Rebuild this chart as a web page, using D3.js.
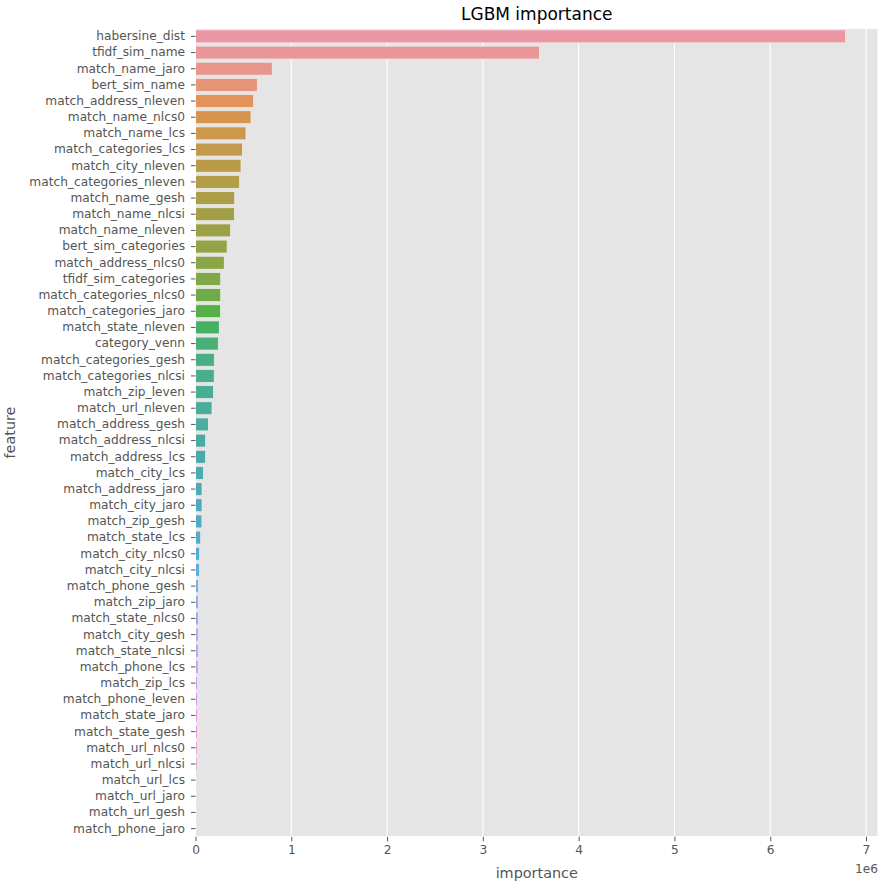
<!DOCTYPE html>
<html>
<head>
<meta charset="utf-8">
<script src="https://cdn.jsdelivr.net/npm/d3@7"></script>
<style>
  body { margin: 0; background: #fff; }
  text { font-family: "DejaVu Sans", sans-serif; }
</style>
</head>
<body>
<div id="chart"></div>
<script>
// feature names, top to bottom
var features = [
  "habersine_dist", "tfidf_sim_name", "match_name_jaro", "bert_sim_name",
  "match_address_nleven", "match_name_nlcs0", "match_name_lcs", "match_categories_lcs",
  "match_city_nleven", "match_categories_nleven", "match_name_gesh", "match_name_nlcsi",
  "match_name_nleven", "bert_sim_categories", "match_address_nlcs0", "tfidf_sim_categories",
  "match_categories_nlcs0", "match_categories_jaro", "match_state_nleven", "category_venn",
  "match_categories_gesh", "match_categories_nlcsi", "match_zip_leven", "match_url_nleven",
  "match_address_gesh", "match_address_nlcsi", "match_address_lcs", "match_city_lcs",
  "match_address_jaro", "match_city_jaro", "match_zip_gesh", "match_state_lcs",
  "match_city_nlcs0", "match_city_nlcsi", "match_phone_gesh", "match_zip_jaro",
  "match_state_nlcs0", "match_city_gesh", "match_state_nlcsi", "match_phone_lcs",
  "match_zip_lcs", "match_phone_leven", "match_state_jaro", "match_state_gesh",
  "match_url_nlcs0", "match_url_nlcsi", "match_url_lcs", "match_url_jaro",
  "match_url_gesh", "match_phone_jaro"
];

// importance
var importance = [
  6786000, 3590000, 801000, 645000,
  607000, 579000, 527000, 489000,
  475000, 461000, 409000, 407000,
  367000, 330000, 300000, 263000,
  263000, 261000, 248000, 238000,
  196000, 195000, 186000, 172000,
  134000, 106000, 105000, 82000,
  68000, 68000, 67000, 54000,
  43000, 42000, 30000, 30000,
  30000, 29000, 28000, 28000,
  19000, 19000, 18000, 18000,
  17000, 16000, 0, 0,
  0, 0
];

var xTicks = [0, 1, 2, 3, 4, 5, 6, 7];

var data = features.map(function(f, i) { return {feature: f, value: importance[i]}; });

// --- husl palette (same maths as seaborn's) ---
var M = [[3.2406, -1.5372, -0.4986], [-0.9689, 1.8758, 0.0415], [0.0557, -0.2040, 1.0570]];
var refU = 0.19784, refV = 0.46834, labE = 0.008856, labK = 903.3;

function maxChroma(L, H) {
  var hr = H / 360 * 2 * Math.PI, sinH = Math.sin(hr), cosH = Math.cos(hr);
  var sub1 = Math.pow(L + 16, 3) / 1560896.0;
  var sub2 = sub1 > labE ? sub1 : L / labK;
  var result = Infinity;
  M.forEach(function(r) {
    var top = (0.99915 * r[0] + 1.05122 * r[1] + 1.14460 * r[2]) * sub2;
    var rb = 0.86330 * r[2] - 0.17266 * r[1];
    var lb = 0.12949 * r[2] - 0.38848 * r[0];
    var bottom = (rb * sinH + lb * cosH) * sub2;
    [0, 1].forEach(function(t) {
      var C = L * (top - 1.05122 * t) / (bottom + 0.17266 * sinH * t);
      if (C > 0 && C < result) result = C;
    });
  });
  return result;
}

function huslToRgb(H, S, L) {
  var C = maxChroma(L, H) / 100 * S;
  var hr = H / 360 * 2 * Math.PI;
  var U = Math.cos(hr) * C, V = Math.sin(hr) * C;
  var t = (L + 16) / 116;
  var Y = Math.pow(t, 3) > labE ? Math.pow(t, 3) : (116 * t - 16) / labK;
  var vu = U / (13 * L) + refU, vv = V / (13 * L) + refV;
  var X = 0 - (9 * Y * vu) / ((vu - 4) * vv - vu * vv);
  var Z = (9 * Y - 15 * vv * Y - vv * X) / (3 * vv);
  return M.map(function(r) {
    var c = r[0] * X + r[1] * Y + r[2] * Z;
    c = c <= 0.0031308 ? 12.92 * c : 1.055 * Math.pow(c, 1 / 2.4) - 0.055;
    return Math.max(0, Math.min(1, c));
  });
}

function desaturate(rgb, prop) {
  var hsl = d3.hsl(d3.rgb(rgb[0] * 255, rgb[1] * 255, rgb[2] * 255));
  hsl.s *= prop;
  return hsl.formatHex();
}

var n = features.length;
var palette = d3.range(n).map(function(i) {
  var h = ((i / n) + 0.01) % 1 * 359;
  return desaturate(huslToRgb(h, 0.9 * 99, 0.7 * 99), 0.75);
});

// --- layout ---
var margin = {top: 28.3, right: 17, bottom: 52.3, left: 195.5},
    width = 895 - margin.left - margin.right,
    height = 889 - margin.top - margin.bottom;

var svg = d3.select("#chart")
  .append("svg")
    .attr("width", 895)
    .attr("height", 889)
  .append("g")
    .attr("transform", "translate(" + margin.left + "," + margin.top + ")");

svg.append("rect")
  .attr("width", width)
  .attr("height", height)
  .attr("fill", "#e5e5e5");

var x = d3.scaleLinear()
  .domain([0, d3.max(importance) * 1.05])
  .range([0, width]);

var y = d3.scaleBand()
  .domain(features)
  .range([0, height])
  .paddingInner(0.2)
  .paddingOuter(0.1);

// vertical grid
svg.selectAll(".grid")
  .data(xTicks)
  .enter()
  .append("line")
    .attr("x1", function(d) { return x(d * 1e6); })
    .attr("x2", function(d) { return x(d * 1e6); })
    .attr("y1", 0)
    .attr("y2", height)
    .attr("stroke", "#fff")
    .attr("stroke-width", 1.1);

// bars
svg.selectAll(".bar")
  .data(data)
  .enter()
  .append("rect")
    .attr("x", x(0))
    .attr("y", function(d) { return y(d.feature); })
    .attr("width", function(d) { return x(d.value) - x(0); })
    .attr("height", y.bandwidth())
    .attr("fill", function(d, i) { return palette[i]; })
    .attr("stroke", "#eeeeee")
    .attr("stroke-width", 0.7);

// frame (white edge like ggplot style)
svg.append("rect")
  .attr("width", width)
  .attr("height", height)
  .attr("fill", "none")
  .attr("stroke", "#fff")
  .attr("stroke-width", 1);

// x axis
var xAxis = svg.append("g")
  .attr("transform", "translate(0," + height + ")")
  .call(d3.axisBottom(x)
    .tickValues(xTicks.map(function(d) { return d * 1e6; }))
    .tickFormat(function(d) { return d / 1e6; })
    .tickSize(4.5)
    .tickPadding(4));
xAxis.select(".domain").remove();
xAxis.selectAll("line").attr("stroke", "#555").attr("stroke-width", 1);
xAxis.selectAll("text").attr("fill", "#555").style("font-size", "12.2px")
  .style("font-family", "DejaVu Sans");

// y axis
var yAxis = svg.append("g")
  .call(d3.axisLeft(y).tickSize(4.5).tickPadding(6));
yAxis.select(".domain").remove();
yAxis.selectAll("line").attr("stroke", "#555").attr("stroke-width", 1);
yAxis.selectAll("text").attr("fill", "#555").style("font-size", "12.2px")
  .style("font-family", "DejaVu Sans");

// offset text
svg.append("text")
  .attr("x", width)
  .attr("y", height + 36)
  .attr("text-anchor", "end")
  .attr("fill", "#555")
  .style("font-size", "12.2px")
  .text("1e6");

// axis labels
svg.append("text")
  .attr("x", width / 2)
  .attr("y", height + 41)
  .attr("text-anchor", "middle")
  .attr("fill", "#555")
  .style("font-size", "14.4px")
  .text("importance");

svg.append("text")
  .attr("transform", "translate(" + (-181) + "," + (height / 2) + ")rotate(-90)")
  .attr("text-anchor", "middle")
  .attr("fill", "#555")
  .style("font-size", "14.4px")
  .text("feature");

// title
svg.append("text")
  .attr("x", width / 2)
  .attr("y", -8)
  .attr("text-anchor", "middle")
  .attr("fill", "#000")
  .style("font-size", "17px")
  .text("LGBM importance");
</script>
</body>
</html>
